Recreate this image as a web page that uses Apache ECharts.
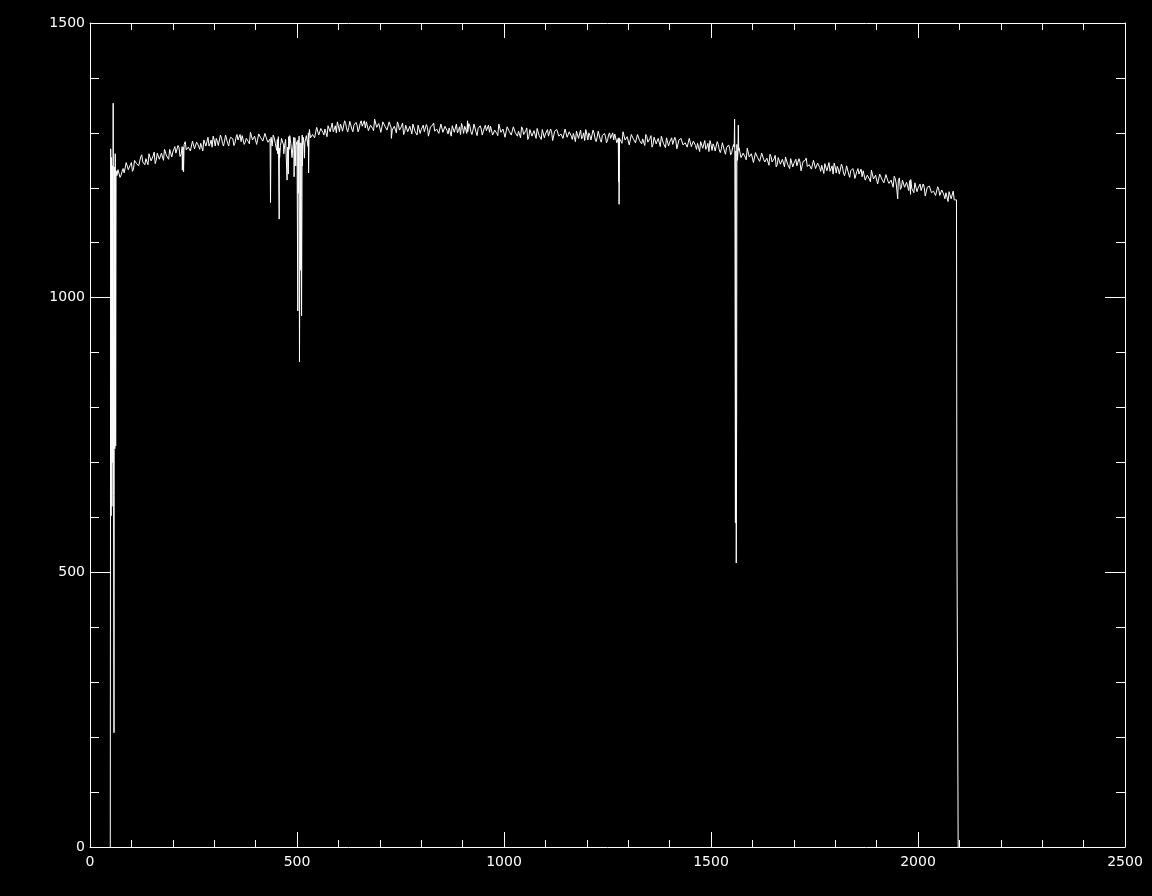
<!DOCTYPE html>
<html>
<head>
<meta charset="utf-8">
<script src="https://cdn.jsdelivr.net/npm/echarts@6/dist/echarts.min.js"></script>
<style>
html,body{margin:0;padding:0;background:#000;}
#chart{width:1152px;height:896px;}
</style>
</head>
<body>
<div id="chart"></div>
<script>
// Continuum flux sampled every 5 units starting at x = 65
const baseStart = 65;
const baseStep = 5;
const continuumFlux = [
  1222,1236,1223,1235,1225,1246,1236,1246,1234,1251,1247,1241,1260,1245,1253,1242,1259,1252,1265,1250,
  1263,1252,1262,1270,1258,1252,1270,1265,1275,1262,1273,1261,1274,1284,1268,1275,1267,1283,1274,1284,
  1270,1282,1287,1276,1292,1280,1274,1287,1290,1277,1296,1281,1285,1294,1276,1292,1289,1281,1297,1285,
  1284,1296,1283,1292,1280,1300,1288,1295,1282,1298,1292,1284,1300,1283,1289,1276,1291,1282,1293,1277,
  1289,1277,1286,1293,1281,1274,1291,1284,1294,1281,1292,1281,1295,1306,1291,1299,1292,1308,1299,1309,
  1296,1308,1313,1302,1318,1306,1300,1313,1316,1303,1322,1307,1310,1320,1302,1317,1314,1307,1322,1310,
  1309,1321,1307,1316,1304,1323,1311,1317,1304,1319,1312,1305,1322,1305,1312,1300,1315,1306,1318,1301,
  1313,1301,1310,1316,1303,1296,1313,1306,1314,1300,1310,1297,1309,1318,1301,1307,1298,1313,1303,1312,
  1298,1309,1313,1301,1316,1304,1297,1310,1312,1299,1317,1302,1305,1313,1295,1310,1307,1299,1314,1302,
  1301,1313,1298,1307,1295,1314,1301,1308,1295,1310,1303,1296,1313,1297,1303,1291,1307,1298,1309,1293,
  1305,1293,1302,1308,1295,1288,1305,1298,1306,1292,1302,1289,1301,1309,1292,1298,1289,1304,1293,1302,
  1288,1299,1303,1290,1305,1293,1286,1298,1300,1287,1305,1289,1292,1301,1283,1297,1294,1286,1300,1288,
  1287,1299,1284,1293,1281,1300,1287,1294,1281,1296,1289,1282,1299,1283,1289,1277,1293,1284,1295,1279,
  1291,1279,1287,1294,1281,1273,1290,1283,1291,1277,1287,1273,1285,1293,1276,1282,1272,1287,1276,1285,
  1270,1281,1284,1272,1286,1274,1266,1279,1280,1267,1284,1269,1271,1280,1261,1276,1272,1264,1279,1267,
  1262,1272,1256,1264,1251,1269,1256,1262,1248,1262,1255,1248,1264,1247,1254,1241,1257,1247,1259,1242,
  1254,1241,1250,1256,1243,1235,1252,1244,1252,1238,1247,1234,1245,1254,1236,1242,1232,1247,1236,1245,
  1230,1241,1244,1231,1246,1233,1225,1238,1239,1225,1243,1227,1229,1238,1219,1233,1229,1220,1235,1222,
  1220,1231,1216,1224,1211,1229,1217,1223,1209,1223,1216,1209,1225,1208,1214,1201,1217,1207,1218,1201,
  1212,1199,1207,1213,1199,1191,1207,1199,1207,1192,1201,1187,1198,1206,1188,1194,1184,1198,1187,1195,
  1180,1190,1193,1180,1194,1181
];
// In-between samples, every 5 units starting at x = 67.5
const midStart = 67.5;
const continuumFluxMid = [
  1233,1219,1230,1227,1246,1233,1242,1230,1250,1244,1240,1256,1247,1242,1256,1262,1249,1258,1244,1263,
  1252,1263,1250,1272,1261,1270,1256,1268,1263,1277,1257,1275,1279,1269,1274,1267,1285,1271,1283,1276,
  1281,1267,1288,1279,1276,1287,1294,1276,1285,1280,1291,1276,1296,1281,1288,1294,1277,1291,1287,1297,
  1295,1279,1290,1284,1301,1287,1294,1279,1298,1291,1285,1299,1287,1280,1292,1296,1281,1288,1272,1290,
  1278,1288,1274,1295,1284,1292,1277,1287,1282,1296,1276,1295,1300,1291,1297,1291,1310,1296,1308,1301,
  1307,1293,1314,1305,1302,1313,1320,1302,1311,1306,1317,1302,1321,1307,1314,1319,1302,1317,1312,1322,
  1320,1304,1314,1308,1325,1310,1317,1301,1320,1312,1305,1320,1309,1302,1315,1320,1305,1312,1297,1314,
  1302,1312,1298,1318,1306,1314,1299,1309,1302,1315,1294,1311,1314,1303,1307,1299,1316,1301,1312,1304,
  1309,1294,1314,1304,1300,1311,1317,1299,1307,1302,1312,1297,1316,1301,1308,1313,1296,1309,1304,1314,
  1312,1296,1305,1299,1316,1301,1307,1292,1311,1303,1296,1311,1300,1294,1306,1311,1297,1304,1288,1306,
  1294,1304,1290,1310,1298,1306,1291,1301,1294,1307,1286,1303,1306,1294,1298,1290,1307,1292,1302,1294,
  1299,1284,1304,1293,1289,1300,1306,1287,1295,1290,1300,1284,1303,1288,1295,1299,1282,1296,1290,1300,
  1298,1282,1291,1285,1302,1287,1293,1278,1297,1289,1282,1297,1286,1280,1292,1297,1283,1290,1274,1292,
  1280,1290,1275,1296,1284,1291,1276,1286,1279,1292,1271,1287,1290,1278,1282,1274,1290,1275,1285,1277,
  1281,1266,1285,1275,1270,1281,1286,1268,1275,1270,1279,1264,1282,1267,1273,1278,1260,1274,1269,1279,
  1273,1255,1263,1256,1272,1256,1262,1246,1264,1255,1248,1263,1251,1244,1257,1261,1247,1253,1238,1255,
  1243,1252,1238,1258,1246,1253,1238,1247,1240,1253,1231,1248,1250,1239,1242,1234,1250,1235,1245,1237,
  1241,1226,1245,1234,1230,1240,1245,1227,1234,1228,1238,1222,1240,1225,1231,1235,1217,1230,1225,1234,
  1231,1214,1223,1216,1232,1216,1223,1207,1225,1216,1209,1224,1212,1205,1217,1221,1207,1213,1197,1214,
  1201,1210,1195,1215,1202,1209,1193,1202,1195,1207,1185,1201,1203,1191,1194,1186,1202,1186,1196,1187,
  1191,1175,1194,1183,1178
];
// Sharp features (edges, absorption dips, spikes)
const featureX = [
  49,49.5,50,51,52,53,54,55,56,57,58,59,60,61,62,63,
  222,223,224,226,227,
  436,437,451,453,457,458,462,468,471,476,477,479,481,488,491,493,494,497,498,
  502,503,504,506,507,508,509,511,512,513,514,518,519,521,527,528,529,
  728,912,
  1276,1277,1278,1279,
  1556,1557,1558,1559,1561,1562,1564,1566,1567,
  1951,1982,
  2093,2094,2096,2097
];
const featureY = [
  0,634,1271,603,1255,620,1240,700,1354,640,208,1238,725,1262,730,1231,
  1270,1232,1262,1229,1268,
  1173,1280,1268,1262,1143,1255,1285,1262,1278,1214,1268,1225,1270,1255,1280,1220,1270,1240,1280,
  976,1190,1260,883,1100,1050,1200,967,1180,1240,1270,1254,1282,1285,1275,1227,1290,
  1290,1322,
  1290,1211,1170,1290,
  1274,1325,1109,590,517,803,1250,1314,1268,
  1180,1188,
  1178,579,579,0
];
const xTicks = [0, 500, 1000, 1500, 2000, 2500];
const yTicks = [0, 500, 1000, 1500];

const points = continuumFlux.map((v, i) => [baseStart + i * baseStep, v]);
continuumFluxMid.forEach((v, i) => points.push([midStart + i * baseStep, v]));
featureX.forEach((x, i) => points.push([x, featureY[i]]));
points.sort((a, b) => a[0] - b[0]);

const white = '#ffffff';
const labelFont = { color: white, fontFamily: 'DejaVu Sans', fontWeight: 'normal', fontSize: 14 };

function xAxisDef(pos, showLabel) {
  return {
    type: 'value', position: pos, min: xTicks[0], max: xTicks[xTicks.length - 1], interval: 500,
    axisLine: { show: true, onZero: false, lineStyle: { color: white, width: 1 } },
    axisTick: { show: true, inside: true, length: 15, lineStyle: { color: white, width: 1 } },
    minorTick: { show: true, splitNumber: 5, length: 7, lineStyle: { color: white, width: 1 } },
    splitLine: { show: false }, minorSplitLine: { show: false },
    axisLabel: Object.assign({ show: showLabel, margin: 8, formatter: v => String(v) }, labelFont)
  };
}
function yAxisDef(pos, showLabel) {
  return {
    type: 'value', position: pos, min: yTicks[0], max: yTicks[yTicks.length - 1], interval: 500,
    axisLine: { show: true, onZero: false, lineStyle: { color: white, width: 1 } },
    axisTick: { show: true, inside: true, length: 20, lineStyle: { color: white, width: 1 } },
    minorTick: { show: true, splitNumber: 5, length: 9, lineStyle: { color: white, width: 1 } },
    splitLine: { show: false }, minorSplitLine: { show: false },
    axisLabel: Object.assign({ show: showLabel, margin: 5, formatter: v => String(v) }, labelFont)
  };
}

const chart = echarts.init(document.getElementById('chart'), null, { renderer: 'canvas' });
chart.setOption({
  backgroundColor: '#000000',
  animation: false,
  grid: { left: 90, right: 27, top: 23, bottom: 49, containLabel: false, outerBoundsMode: 'none' },
  xAxis: [xAxisDef('bottom', true), xAxisDef('top', false)],
  yAxis: [yAxisDef('left', true), yAxisDef('right', false)],
  series: [{
    type: 'line',
    xAxisIndex: 0, yAxisIndex: 0,
    data: points,
    showSymbol: false,
    symbol: 'none',
    sampling: null,
    lineStyle: { color: white, width: 1 },
    silent: true
  }, {
    type: 'line',
    xAxisIndex: 1, yAxisIndex: 1,
    data: [],
    showSymbol: false,
    silent: true
  }]
});
</script>
</body>
</html>
